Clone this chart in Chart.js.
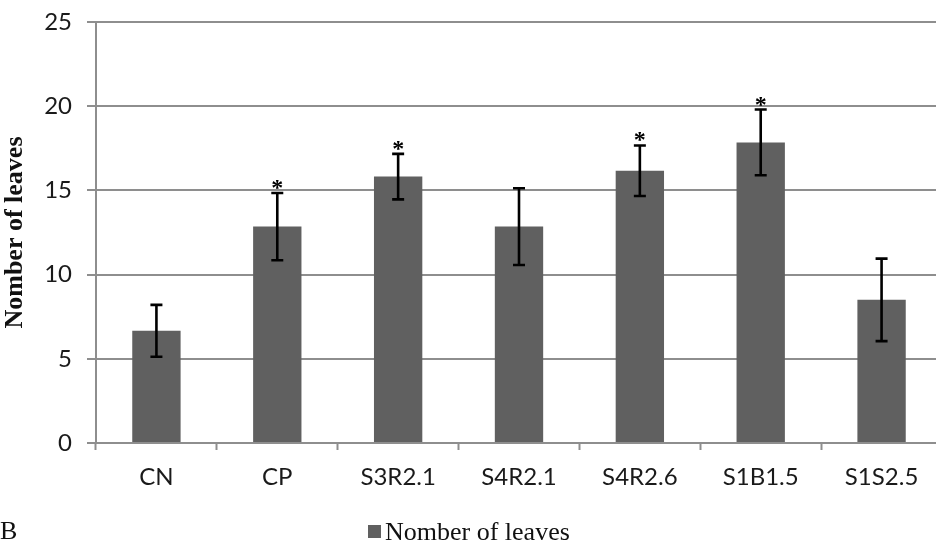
<!DOCTYPE html>
<html>
<head>
<meta charset="utf-8">
<script src="https://cdn.jsdelivr.net/npm/chart.js@4.4.1/dist/chart.umd.min.js"></script>
<style>
  html, body { margin: 0; padding: 0; background: #ffffff; overflow: hidden; }
  #wrap { position: absolute; left: 0; top: 0; width: 942px; height: 549px; }
</style>
</head>
<body>
<div id="wrap"><canvas id="chart" width="942" height="549"></canvas></div>
<script>
// Strain treatments and the mean number of leaves per plant
const categories = ['CN', 'CP', 'S3R2.1', 'S4R2.1', 'S4R2.6', 'S1B1.5', 'S1S2.5'];
const leafMeans  = [6.66, 12.85, 15.82, 12.85, 16.17, 17.85, 8.5];
const leafErrors = [1.54, 2.0, 1.35, 2.28, 1.5, 1.95, 2.45];
// treatments that differ significantly from the negative control
const significant = [false, true, true, false, true, true, false];
const yTicks = [0, 5, 10, 15, 20, 25];
const seriesName = 'Nomber of leaves';
const panelLetter = 'B';

const barColor = '#606060';
const gridColor = '#8e8e8e';

// error bars with caps and significance asterisks
const errorBarPlugin = {
  id: 'errorBars',
  afterDatasetsDraw(chart) {
    const ctx = chart.ctx;
    const meta = chart.getDatasetMeta(0);
    const y = chart.scales.y;
    ctx.save();
    ctx.strokeStyle = '#000000';
    ctx.lineWidth = 2.6;
    meta.data.forEach((bar, i) => {
      const x = bar.x;
      const top = y.getPixelForValue(leafMeans[i] + leafErrors[i]);
      const bot = y.getPixelForValue(leafMeans[i] - leafErrors[i]);
      ctx.beginPath();
      ctx.moveTo(x, top); ctx.lineTo(x, bot);
      ctx.moveTo(x - 6, top); ctx.lineTo(x + 6, top);
      ctx.moveTo(x - 6, bot); ctx.lineTo(x + 6, bot);
      ctx.stroke();
      if (significant[i]) {
        ctx.fillStyle = '#000000';
        ctx.font = 'bold 24px "Liberation Serif", "Times New Roman", serif';
        ctx.textAlign = 'center';
        ctx.textBaseline = 'alphabetic';
        ctx.fillText('*', x, top + 2);
      }
    });
    ctx.restore();
  }
};

// bottom legend entry and the panel letter
const footerPlugin = {
  id: 'footer',
  afterDraw(chart) {
    const ctx = chart.ctx;
    ctx.save();
    ctx.font = '26px "Liberation Serif", "Times New Roman", serif';
    ctx.fillStyle = '#111111';
    ctx.textBaseline = 'alphabetic';
    ctx.textAlign = 'left';
    ctx.fillText(panelLetter, 0, 539);
    ctx.fillStyle = barColor;
    ctx.fillRect(368, 525, 13, 13);
    ctx.fillStyle = '#111111';
    ctx.fillText(seriesName, 385, 540);
    ctx.restore();
  }
};

new Chart(document.getElementById('chart'), {
  type: 'bar',
  data: {
    labels: categories,
    datasets: [{
      label: seriesName,
      data: leafMeans,
      backgroundColor: barColor,
      borderWidth: 0,
      barPercentage: 0.8,
      categoryPercentage: 0.5
    }]
  },
  options: {
    responsive: false,
    animation: false,
    layout: { padding: { top: 22, left: 0, right: 0, bottom: 0 } },
    plugins: {
      legend: { display: false },
      tooltip: { enabled: false }
    },
    scales: {
      x: {
        grid: {
          offset: true,
          drawOnChartArea: false,
          drawTicks: true,
          tickLength: 7,
          tickWidth: 2,
          tickColor: gridColor,
          color: gridColor
        },
        border: { display: true, color: gridColor, width: 2 },
        ticks: {
          color: '#1a1a1a',
          font: { family: 'Lato', size: 24 },
          padding: 13,
          maxRotation: 0
        },
        afterFit(scale) {
          scale.height = 106;
          scale.paddingLeft = 0;
          scale.paddingRight = 0;
        }
      },
      y: {
        min: 0,
        max: 25,
        afterBuildTicks(scale) { scale.ticks = yTicks.map(v => ({ value: v })); },
        grid: {
          color: gridColor,
          lineWidth: 2,
          drawTicks: true,
          tickLength: 9,
          tickColor: gridColor
        },
        border: { display: true, color: gridColor, width: 2 },
        ticks: {
          color: '#1a1a1a',
          font: { family: 'Lato', size: 24 },
          padding: 15
        },
        title: {
          display: true,
          text: seriesName,
          color: '#111111',
          font: { family: '"Liberation Serif", "Times New Roman", serif', size: 26, weight: 'bold' },
          padding: { top: 0, bottom: 8 }
        },
        afterFit(scale) {
          scale.width = 96;
          scale.paddingTop = 0;
          scale.paddingBottom = 0;
        }
      }
    }
  },
  plugins: [errorBarPlugin, footerPlugin]
});
</script>
</body>
</html>
